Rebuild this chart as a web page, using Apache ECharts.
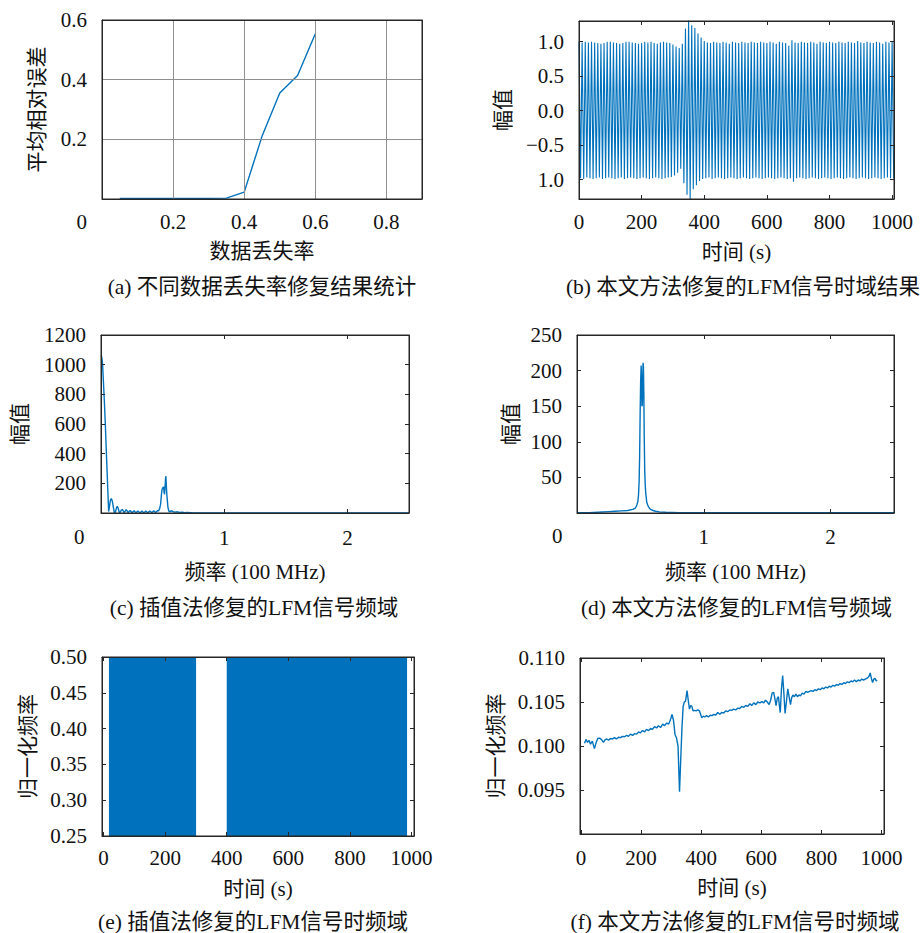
<!DOCTYPE html>
<html><head><meta charset="utf-8">
<script src="https://cdn.jsdelivr.net/npm/echarts@6/dist/echarts.min.js"></script>
<style>html,body{margin:0;padding:0;background:#fff}#c{width:924px;height:933px}</style>
</head><body><div id="c"></div>
<script>
// ---------- (a) 不同数据丢失率修复结果统计 ----------
const lossRate   = [0.05, 0.10, 0.15, 0.20, 0.25, 0.30, 0.35, 0.40, 0.45, 0.50, 0.55, 0.60];
const meanRelErr = [0.002, 0.002, 0.002, 0.002, 0.002, 0.002, 0.003, 0.023, 0.21, 0.355, 0.414, 0.554];

// ---------- (b) 时域结果: 每周期峰值 (t = 0,10,...,1000) 与谷值 (t = 5,15,...,1005) ----------
const peakAmp = [1.00,0.99,1.00,0.99,1.00,0.99,0.98,0.97,0.98,1.00,
                 1.00,0.99,0.98,0.97,0.98,1.00,1.00,0.99,0.98,0.97,
                 0.98,1.00,0.99,1.00,0.98,0.97,0.99,1.00,0.99,0.98,
                 0.96,0.93,0.91,0.97,1.19,1.33,1.24,1.20,1.12,1.06,
                 1.01,0.99,0.98,1.00,0.99,0.98,1.00,0.99,0.97,1.00,
                 0.99,0.98,1.00,0.99,0.98,1.00,0.99,0.98,1.00,0.99,
                 0.98,1.00,0.99,0.97,1.00,0.99,0.98,0.94,1.02,0.99,
                 0.98,1.00,0.99,0.98,1.00,0.99,0.97,1.00,0.99,0.98,
                 1.00,0.99,0.98,1.00,0.99,0.98,1.00,0.99,0.98,1.01,
                 0.99,0.98,1.00,0.99,0.98,1.00,0.99,0.97,1.00,0.99,1.00];
const troughAmp = [-0.98,-0.99,-0.97,-0.98,-0.99,-0.98,-0.97,-0.99,-0.98,-0.97,
                   -0.98,-0.99,-0.98,-0.97,-0.99,-0.98,-0.97,-0.98,-0.99,-0.98,
                   -0.97,-0.98,-0.99,-0.98,-0.97,-0.98,-0.99,-0.98,-0.97,-0.96,
                   -0.94,-0.90,-0.84,-1.05,-1.22,-1.28,-1.14,-1.08,-1.02,-0.99,
                   -0.98,-0.97,-0.99,-0.98,-0.97,-0.98,-0.99,-0.98,-0.97,-0.98,
                   -0.99,-0.98,-0.97,-0.98,-0.99,-0.98,-0.97,-0.98,-0.99,-0.98,
                   -0.97,-0.98,-0.99,-0.98,-0.97,-0.98,-0.99,-0.98,-1.03,-0.98,
                   -0.97,-0.98,-0.99,-0.98,-0.97,-0.98,-0.99,-0.98,-0.97,-0.98,
                   -0.99,-0.98,-0.97,-0.98,-0.99,-0.98,-0.97,-0.98,-0.99,-0.98,
                   -0.97,-0.98,-0.99,-0.98,-0.97,-0.98,-0.99,-0.98,-0.97,-0.98,-0.98];
const bYLabels = {'1':'1.0','0.5':'0.5','0':'0.0','-0.5':'\u22120.5','-1':'1.0'};

// ---------- (c) 插值法修复的LFM信号频域 ----------
const freqC = [0.002,0.008,0.013,0.02,0.028,0.035,0.042,0.049,0.056,0.062,0.068,0.076,0.084,0.092,0.1,0.108,0.116,
  0.124,0.132,0.14,0.148,0.156,0.164,0.172,0.18,0.188,0.196,0.204,0.212,0.22,0.228,0.236,0.244,0.252,0.26,0.268,
  0.276,0.284,0.292,0.3,0.308,0.316,0.324,0.332,0.34,0.348,0.356,0.364,0.372,0.38,0.388,0.396,0.404,0.412,0.42,
  0.428,0.436,0.444,0.452,0.46,0.468,0.476,0.484,0.49,0.496,0.502,0.508,0.512,0.516,0.52,0.524,0.527,0.531,0.535,
  0.539,0.543,0.55,0.556,0.565,0.575,0.585,0.6,0.62,0.64,0.66,0.68,0.7,0.75,0.8,1.0,1.5,2.0,2.5];
const ampC = [1066,1040,1000,880,740,600,440,290,140,10,40,85,97,80,40,5,2,
  30,45,30,5,5,18,24,15,3,12,22,14,2,10,18,10,2,9,15,
  8,2,8,14,7,1,7,13,7,1,7,13,7,1,8,14,8,2,9,
  15,9,3,10,16,14,30,60,120,160,170,176,140,126,180,230,248,170,118,
  80,40,15,8,12,15,8,6,8,4,5,2,3,1,1,0.5,0.3,0.3,0.3];

// ---------- (d) 本文方法修复的LFM信号频域 ----------
const freqD = [0,0.1,0.2,0.25,0.3,0.35,0.4,0.44,0.46,0.47,0.48,0.485,0.49,0.494,0.498,0.502,0.506,0.509,
  0.512,0.515,0.518,0.521,0.524,0.527,0.53,0.534,0.538,0.542,0.546,0.55,0.56,0.57,0.58,0.6,0.62,0.65,0.7,0.8,1.0,2.5];
const ampD = [0.3,0.5,1.5,2,2.5,3,3.5,5,7,10,16,25,45,80,140,185,207,190,
  150,152,175,211,205,170,110,60,40,28,22,15,10,7,5,3.5,2.5,1.5,1,0.5,0.3,0.3];

// ---------- (e) 插值法修复的LFM信号时频域 ----------
const segStart = [17.5, 400];
const segEnd   = [300.5, 985.5];
const tfTop    = 0.5;

// ---------- (f) 本文方法修复的LFM信号时频域 ----------
const timeF = [12,17,22,27,32,38,45,50,56,62,68,75,80,86,92,98,105,112,118,125,132,138,145,152,158,165,172,178,185,
  192,198,205,212,218,225,232,238,245,252,258,265,272,278,285,292,298,303,308,313,318,323,328,332,336,340,344,348,
  353,357,361,365,369,373,378,383,389,394,398,402,407,412,418,424,430,436,442,448,455,462,468,475,482,488,495,502,
  508,515,522,528,535,542,548,555,562,568,575,582,588,595,602,608,614,620,626,631,636,641,645,649,653,657,660,663,
  667,671,675,679,684,688,692,697,701,705,710,715,720,725,730,736,742,748,754,760,766,772,778,784,790,796,802,808,
  814,820,826,832,838,844,850,856,862,868,874,880,886,892,898,904,910,916,922,928,934,940,946,952,958,962,966,970,
  974,978,982,985];
const normFreqF = [0.1003,0.10075,0.1004,0.10065,0.1002,0.10055,0.0997,0.1003,0.10085,0.1009,0.10075,0.1004,0.1007,
  0.1008,0.10065,0.10085,0.1008,0.10095,0.1008,0.1010,0.10095,0.1011,0.10105,0.1012,0.1011,0.10135,0.1012,0.1014,
  0.10135,0.1016,0.1015,0.10175,0.1016,0.1019,0.10175,0.1020,0.1019,0.1022,0.10205,0.1023,0.1021,0.1025,0.1023,
  0.1026,0.1025,0.1030,0.1036,0.1029,0.1013,0.1009,0.1000,0.0948,0.0985,0.1020,0.1045,0.1050,0.1051,0.1063,0.1052,
  0.1042,0.1046,0.1045,0.1040,0.10405,0.1040,0.1041,0.1040,0.1036,0.1032,0.1034,0.1033,0.10345,0.1033,0.1035,
  0.10345,0.1036,0.1035,0.1038,0.1036,0.1038,0.10375,0.1040,0.1039,0.1041,0.10405,0.1042,0.1041,0.1043,0.10425,
  0.1045,0.1044,0.1046,0.1045,0.1048,0.1046,0.1049,0.1047,0.1050,0.1049,0.10505,0.1049,0.1052,0.1050,0.1047,0.1052,
  0.1060,0.1061,0.1054,0.1046,0.1054,0.1056,0.1046,0.1038,0.1065,0.1080,0.1060,0.1037,0.1052,0.1065,0.1057,0.1047,
  0.1055,0.1058,0.1056,0.1059,0.1056,0.1058,0.1057,0.1060,0.1059,0.1062,0.1061,0.1062,0.1063,0.1062,0.1064,0.1063,
  0.1065,0.1064,0.1066,0.1065,0.1067,0.1066,0.1068,0.1067,0.1069,0.1068,0.1070,0.1069,0.1071,0.1070,0.1072,0.1071,
  0.1073,0.1072,0.1074,0.1073,0.1075,0.1073,0.1075,0.1074,0.1076,0.1075,0.1076,0.1077,0.1079,0.1083,0.1077,0.1072,
  0.1076,0.1077,0.1074,0.1075];

// ---------- captions / axis titles ----------
const captions = ['(a) 不同数据丢失率修复结果统计','(b) 本文方法修复的LFM信号时域结果','(c) 插值法修复的LFM信号频域',
                  '(d) 本文方法修复的LFM信号频域','(e) 插值法修复的LFM信号时频域','(f) 本文方法修复的LFM信号时频域'];
const xTitles = ['数据丢失率','时间 (s)','频率 (100 MHz)','频率 (100 MHz)','时间 (s)','时间 (s)'];
const yTitles = ['平均相对误差','幅值','幅值','幅值','归一化频率','归一化频率'];

// =====================================================
const FONT = '"Liberation Serif", "Noto Sans CJK SC", serif';
const TXT = '#111';
const AX = '#262626';
const BLUE = '#0072BD';

const gridBoxes = [
  {left:102, top:20, width:320, height:179},
  {left:579, top:21, width:315, height:178},
  {left:101, top:335, width:308, height:178},
  {left:577, top:335, width:317, height:178},
  {left:102, top:657, width:312, height:179},
  {left:580, top:658, width:304, height:176}
];
const grids = gridBoxes.map(g => Object.assign({show:true, borderColor:AX, borderWidth:1, backgroundColor:'rgba(0,0,0,0)', z:6}, g));

const xSpec = [
  {min:0, max:0.9, interval:0.2, fmt:v => (v > 0.01 && v < 0.85) ? v.toFixed(1) : '', margin:12, gap:41},
  {min:0, max:1006, interval:200, fmt:v => (Math.abs(v % 200) < 1e-6) ? String(v) : '', margin:12.5, gap:42},
  {min:0, max:2.5, interval:1, fmt:v => (v === 1 || v === 2) ? String(v) : '', margin:14, gap:48},
  {min:0, max:2.5, interval:1, fmt:v => (v === 1 || v === 2) ? String(v) : '', margin:13, gap:48},
  {min:-5, max:1008, fmt:v => (Math.abs(v % 200) < 1e-6) ? String(v) : '', margin:11.5, gap:42},
  {min:-3, max:1008, fmt:v => (Math.abs(v % 200) < 1e-6) ? String(v) : '', margin:13, gap:43}
];
const ySpec = [
  {min:0, max:0.6, interval:0.2, fmt:v => v > 0.01 ? v.toFixed(1) : '', gap:55},
  {min:-1.28, max:1.30, fmt:v => { const r = Math.round(v * 2) / 2; return Math.abs(v - r) < 1e-6 ? (bYLabels[String(r)] || '') : ''; }, gap:66},
  {min:0, max:1200, interval:200, fmt:v => v > 0 ? String(v) : '', gap:71},
  {min:0, max:250, interval:50, fmt:v => v > 0 ? String(v) : '', gap:56},
  {min:0.25, max:0.5, interval:0.05, fmt:v => v.toFixed(2), gap:64},
  {min:0.09, max:0.11, interval:0.005, fmt:v => v < 0.0925 ? '' : v.toFixed(3), gap:74}
];

const xAxes = [], yAxes = [], series = [], graphics = [];
grids.forEach((g, i) => {
  const xs = xSpec[i], ys = ySpec[i];
  const withGrid = (i === 0);
  const tick = {show: !withGrid, inside: true, length: 4, lineStyle: {color: AX, width: 1}};
  const line = {show: true, onZero: false, lineStyle: {color: AX, width: 1}};
  const split = {show: withGrid, lineStyle: {color: '#8f8f8f', width: 1}};
  const labelStyle = {fontFamily: FONT, fontSize: 21, color: TXT, lineHeight: 21};
  const nameStyle = {fontFamily: FONT, fontSize: 21, color: TXT};
  const base = (s) => { const o = {type:'value', show:true, min:s.min, max:s.max, z:5}; if (s.interval !== undefined) o.interval = s.interval; return o; };
  xAxes.push(Object.assign(base(xs), {gridIndex:i, position:'bottom', axisLine:line, axisTick:tick, splitLine:split,
    axisLabel: Object.assign({formatter: xs.fmt, margin: xs.margin}, labelStyle),
    name: xTitles[i], nameLocation:'middle', nameGap: xs.gap, nameTextStyle: nameStyle}));
  xAxes.push(Object.assign(base(xs), {gridIndex:i, position:'top', axisLine:line, axisTick:tick, splitLine:{show:false},
    axisLabel:{show:false}}));
  yAxes.push(Object.assign(base(ys), {gridIndex:i, position:'left', axisLine:line, axisTick:tick, splitLine:split,
    axisLabel: Object.assign({formatter: ys.fmt, margin: 15}, labelStyle),
    name: yTitles[i], nameLocation:'middle', nameRotate: 90, nameGap: ys.gap, nameTextStyle: nameStyle}));
  yAxes.push(Object.assign(base(ys), {gridIndex:i, position:'right', axisLine:line, axisTick:tick, splitLine:{show:false},
    axisLabel:{show:false}}));
});

const lineSeries = (i, data, w) => ({type:'line', xAxisIndex: 2*i, yAxisIndex: 2*i, data: data, showSymbol:false,
  lineStyle:{color: BLUE, width: w}, itemStyle:{color: BLUE}});

// (a)
series.push(lineSeries(0, lossRate.map((x, k) => [x, meanRelErr[k]]), 1.4));
// (b) alternating per-cycle extrema
const bData = [];
peakAmp.forEach((p, k) => { bData.push([k * 10, p]); if (troughAmp[k] !== undefined) bData.push([k * 10 + 5, troughAmp[k]]); });
series.push(lineSeries(1, bData, 1.1));
// (c)
series.push(lineSeries(2, freqC.map((x, k) => [x, ampC[k]]), 1.4));
// (d)
series.push(lineSeries(3, freqD.map((x, k) => [x, ampD[k]]), 1.4));
// (e) filled blocks
segStart.forEach((s, k) => {
  series.push({type:'line', xAxisIndex:8, yAxisIndex:8, data:[[s, tfTop], [segEnd[k], tfTop]], showSymbol:false,
    lineStyle:{width:0, color: BLUE}, itemStyle:{color: BLUE}, areaStyle:{color: BLUE, opacity:1, origin:'start'}});
});
// (f)
series.push(lineSeries(5, timeF.map((x, k) => [x, normFreqF[k]]), 1.4));

// corner "0" labels and captions
const cornerZero = [[87, 222], null, [84.5, 537.3], [562.5, 536], null, null];
cornerZero.forEach(p => { if (p) graphics.push({type:'text', x:p[0], y:p[1], silent:true,
  style:{text:'0', fill:TXT, font:'21px ' + FONT, textAlign:'right', textVerticalAlign:'middle', align:'right', verticalAlign:'middle'}}); });
const capPos = [[262, 287], [743, 287], [254, 608], [736.5, 608], [253, 922], [735, 922]];
captions.forEach((c, k) => graphics.push({type:'text', x:capPos[k][0], y:capPos[k][1], silent:true,
  style:{text:c, fill:TXT, font:'21.5px ' + FONT, textAlign:'center', textVerticalAlign:'middle', align:'center', verticalAlign:'middle'}}));

const chart = echarts.init(document.getElementById('c'), null, {renderer:'svg'});
chart.setOption({backgroundColor:'#fff', animation:false, grid: grids, xAxis: xAxes, yAxis: yAxes, series: series, graphic: graphics});
</script></body></html>
